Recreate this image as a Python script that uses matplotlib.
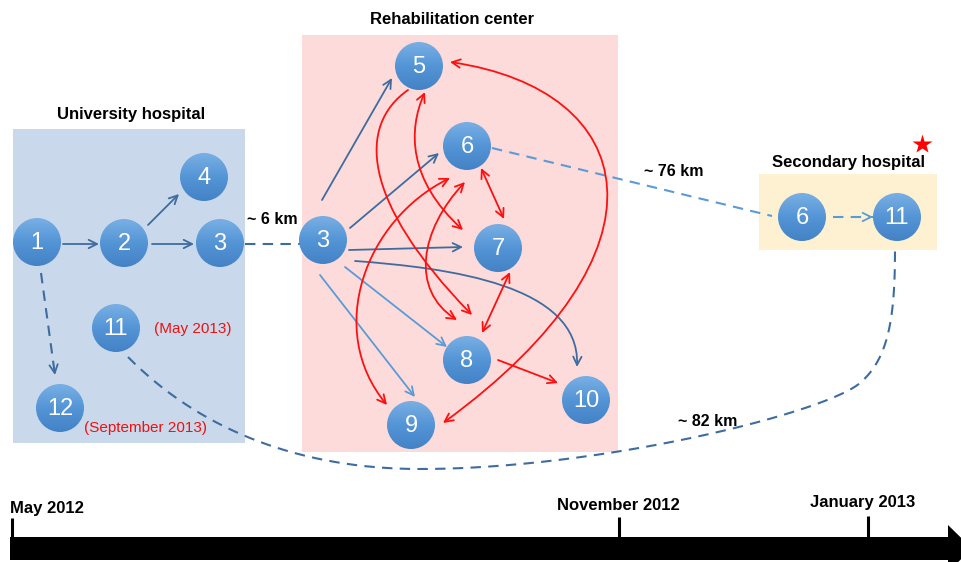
import matplotlib
matplotlib.use("Agg")
import matplotlib.pyplot as plt
import numpy as np
from matplotlib.patches import Rectangle, Circle, FancyArrowPatch, Polygon
from matplotlib.path import Path
from matplotlib.colors import LinearSegmentedColormap

plt.rcParams["font.family"] = ["Liberation Sans", "DejaVu Sans"]

_dark = "#3F6C9E"
_light = "#5B9BD5"
_red = "#FF1010"

# node labels per site
univ_nodes = ["1", "2", "3", "4", "11", "12"]
rehab_nodes = ["3", "5", "6", "7", "8", "9", "10"]
second_nodes = ["6", "11"]

site_titles = ["University hospital", "Rehabilitation center", "Secondary hospital"]
distances = ["~ 6 km", "~ 76 km", "~ 82 km"]
later_dates = ["(May 2013)", "(September 2013)"]
timeline_labels = ["May 2012", "November 2012", "January 2013"]

# layout (pixel coordinates, y down)
univ_xy = [(37, 242), (124, 243), (220, 243), (204, 177), (116, 328), (60, 408)]
rehab_xy = [(323, 240), (419, 66), (467, 146), (498, 248), (467, 360), (411, 425), (586, 400)]
second_xy = [(802, 217), (897, 217)]
R = 24

fig = plt.figure(figsize=(9.62, 5.62), dpi=100)
ax = fig.add_axes([0, 0, 1, 1])
ax.axis("off")

# site boxes
ax.add_patch(Rectangle((13, 129), 232, 314, facecolor="#C9D9EB", edgecolor="none", zorder=0))
ax.add_patch(Rectangle((302, 35), 316, 417, facecolor="#FDDBDB", edgecolor="none", zorder=0))
ax.add_patch(Rectangle((759, 174), 178, 76, facecolor="#FDF1D2", edgecolor="none", zorder=0))

title_font = dict(fontsize=12, fontweight="bold", ha="center", va="center")
ax.text(131, 115, site_titles[0], **title_font)
ax.text(452, 20, site_titles[1], **title_font)
ax.text(849, 162, site_titles[2], **title_font)
ax.plot(922, 144, marker="*", color="#FF0000", markersize=15, markeredgecolor="none")

dist_font = dict(fontsize=11.5, fontweight="bold", ha="center", va="center")
ax.text(272, 219, distances[0], **dist_font)
ax.text(674, 172, distances[1], **dist_font)
ax.text(708, 421, distances[2], **dist_font)

ax.text(193, 329, later_dates[0], color="#EE1111", fontsize=11, ha="center", va="center")
ax.text(146, 428, later_dates[1], color="#EE1111", fontsize=11, ha="center", va="center", zorder=6)


def arrow(p0, p1, color, style="->", ctrl=None, lw=1.3):
    if ctrl is None:
        path = Path([p0, p1], [Path.MOVETO, Path.LINETO])
    else:
        path = Path([p0, ctrl[0], ctrl[1], p1],
                    [Path.MOVETO, Path.CURVE4, Path.CURVE4, Path.CURVE4])
    a = FancyArrowPatch(path=path, arrowstyle=style + ",head_length=0.6,head_width=0.3",
                        mutation_scale=10, color=color, lw=lw, zorder=3)
    ax.add_patch(a)


def dashed(pts, color, ctrl=None, head=False, lw=1.5):
    if ctrl is None:
        xs, ys = zip(*pts)
    else:
        t = np.linspace(0, 1, 200)[:, None]
        xs, ys = [], []
        for seg, (c1, c2) in zip(zip(pts[:-1], pts[1:]), ctrl):
            P = np.array([seg[0], c1, c2, seg[1]], dtype=float)
            b = ((1 - t) ** 3 * P[0] + 3 * (1 - t) ** 2 * t * P[1]
                 + 3 * (1 - t) * t ** 2 * P[2] + t ** 3 * P[3])
            xs += list(b[:, 0])
            ys += list(b[:, 1])
    ax.plot(xs, ys, color=color, lw=lw, linestyle=(0, (5, 3.5)), zorder=2)
    if head:
        x0, y0 = pts[-2] if ctrl is None else (xs[-2], ys[-2])
        x1, y1 = pts[-1]
        d = np.hypot(x1 - x0, y1 - y0)
        arrow((x1 - (x1 - x0) / d * 3, y1 - (y1 - y0) / d * 3), (x1, y1), color)


# university hospital
arrow((63, 244), (99, 244), _dark)
arrow((148, 225), (179, 194), _dark)
arrow((152, 244), (194, 244), _dark)
dashed([(41, 273), (55, 375)], _dark, head=True)
dashed([(245, 244), (300, 244)], _dark)

# rehabilitation center, blue
arrow((322, 200), (392, 78), _dark)
arrow((350, 228), (439, 153), _dark)
arrow((349, 250), (463, 247), _dark)
arrow((355, 261), (577, 367), _dark, ctrl=[(450, 268), (580, 285)])
arrow((345, 267), (447, 347), _light)
arrow((320, 275), (415, 397), _light)

# rehabilitation center, red
arrow((408, 90), (472, 315), _red, ctrl=[(358, 125), (360, 200)])
arrow((425, 92), (463, 230), _red, "<->", ctrl=[(408, 130), (408, 180)])
arrow((450, 178), (387, 405), _red, "<->", ctrl=[(365, 220), (325, 330)])
arrow((465, 182), (457, 320), _red, "<->", ctrl=[(420, 230), (410, 290)])
arrow((481, 168), (504, 219), _red, "<->")
arrow((510, 272), (482, 333), _red, "<->")
arrow((498, 360), (558, 383), _red)
arrow((450, 62), (443, 423), _red, "<->", ctrl=[(640, 90), (680, 250)])

# transfers
dashed([(492, 148), (772, 216)], _light)
dashed([(833, 217), (873, 217)], _light, head=True)
dashed([(128, 357), (420, 469), (860, 383), (895, 250)], _dark,
       ctrl=[((200, 430), (300, 469)), ((600, 469), (825, 413)), ((888, 359), (895, 320))])

# nodes
node_cmap = LinearSegmentedColormap.from_list("node", ["#79AFE4", "#5495D6", "#4482C6"])
grad = np.linspace(0, 1, 64).reshape(-1, 1)
for labels, coords in [(univ_nodes, univ_xy), (rehab_nodes, rehab_xy), (second_nodes, second_xy)]:
    for lab, (x, y) in zip(labels, coords):
        circ = Circle((x, y), R, facecolor="none", edgecolor="none", zorder=4)
        ax.add_patch(circ)
        im = ax.imshow(grad, cmap=node_cmap, extent=(x - R, x + R, y + R, y - R),
                       origin="upper", aspect="auto", zorder=4)
        im.set_clip_path(circ)
        ax.text(x, y + 1, lab, color="white", fontsize=17, ha="center", va="center", zorder=5)

# timeline
ax.add_patch(Rectangle((10, 537), 940, 23, facecolor="black", edgecolor="none"))
ax.add_patch(Polygon([(948, 525), (972, 548.5), (948, 572)], closed=True,
                     facecolor="black", edgecolor="none"))
tick_x = [12, 619, 868]
tick_top = [518, 517, 516]
for tx, tt in zip(tick_x, tick_top):
    ax.plot([tx, tx], [tt, 538], color="black", lw=2.2, solid_capstyle="butt")
tl_font = dict(fontsize=12, fontweight="bold", va="center",
               family=["Liberation Sans Narrow", "Liberation Sans"])
ax.text(10, 509, timeline_labels[0], ha="left", **tl_font)
ax.text(618, 506, timeline_labels[1], ha="center", **tl_font)
ax.text(863, 503, timeline_labels[2], ha="center", **tl_font)

ax.set_xlim(0, 962)
ax.set_ylim(562, 0)
fig.savefig("out.png", dpi=100)
